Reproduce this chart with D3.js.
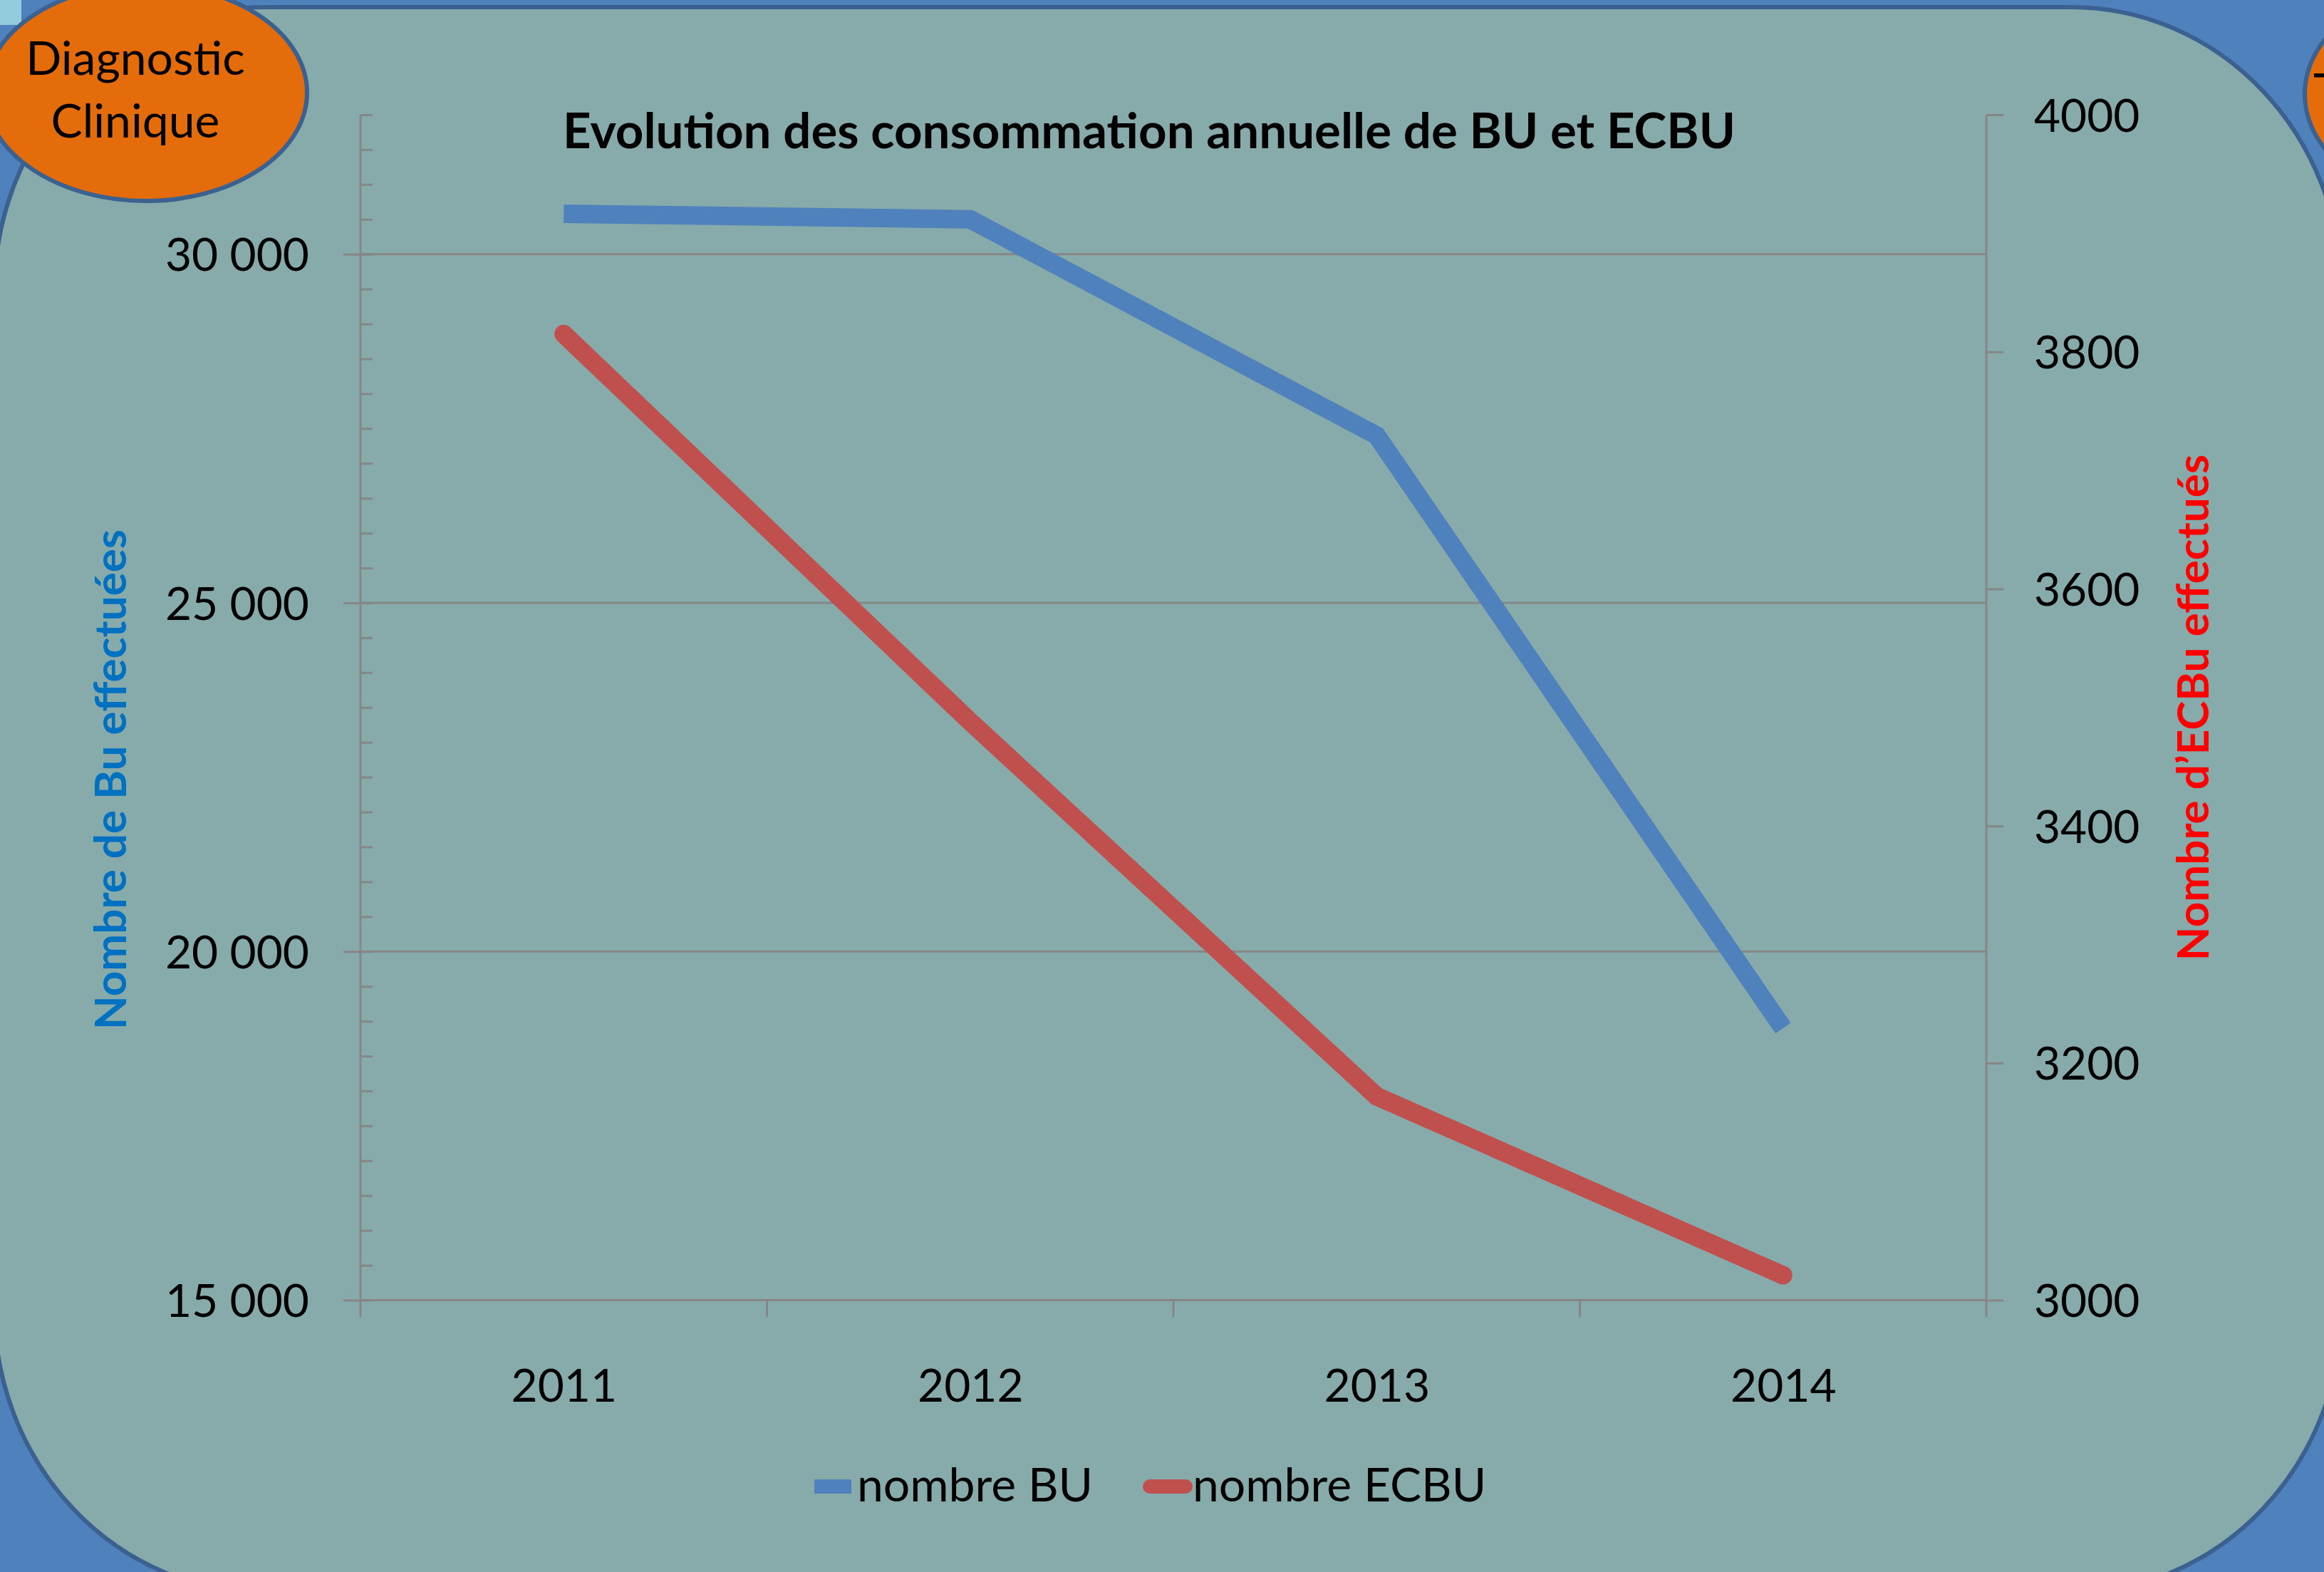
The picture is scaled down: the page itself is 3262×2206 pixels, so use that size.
<!DOCTYPE html>
<html>
<head>
<meta charset="utf-8">
<title>Evolution des consommation annuelle de BU et ECBU</title>
<style>
  body { margin: 0; background: #4f81bd; }
  svg { display: block; font-family: Lato, "Open Sans", sans-serif; }
</style>
</head>
<body>
<div id="container"></div>
<script src="https://cdn.jsdelivr.net/npm/d3@7"></script>
<script>
// Data
const years = ["2011", "2012", "2013", "2014"];
const nombreBU = [30580, 30500, 27400, 18900];
const nombreECBU = [3815, 3488, 3172, 3021];
const leftTicks = [15000, 20000, 25000, 30000];
const rightTicks = [3000, 3200, 3400, 3600, 3800, 4000];
const seriesNames = ["nombre BU", "nombre ECBU"];

const width = 3262;
const height = 2206;
const marginLeft = 506;
const marginRight = width - 2788;
const marginTop = 161;
const plotBottom = 1824.5;

const fmt = d3.formatLocale({thousands: " ", grouping: [3], decimal: ",", currency: ["", ""]}).format(",d");

// Scales
const x = d3.scalePoint().domain(years).range([marginLeft, width - marginRight]).padding(0.5);
const xb = d3.scaleBand().domain(years).range([marginLeft, width - marginRight]);
const yL = d3.scaleLinear().domain([15000, 32000]).range([plotBottom, marginTop]);
const yR = d3.scaleLinear().domain([3000, 4000]).range([plotBottom, marginTop]);

const svg = d3.create("svg")
    .attr("width", width)
    .attr("height", height);

// Slide background: blue page, teal rounded panel
svg.append("rect").attr("width", width).attr("height", height).attr("fill", "#4f81bd");
svg.append("rect").attr("width", 30).attr("height", 35).attr("fill", "#93cddd");
svg.append("rect")
    .attr("x", -8).attr("y", 10)
    .attr("width", 3295).attr("height", 2225)
    .attr("rx", 380).attr("ry", 400)
    .attr("fill", "#87abaa")
    .attr("stroke", "#3b6191")
    .attr("stroke-width", 6);

// Gridlines
const gridColor = "#868686";
svg.append("g")
  .selectAll("line")
  .data(leftTicks.slice(1))
  .join("line")
    .attr("x1", marginLeft).attr("x2", width - marginRight)
    .attr("y1", d => yL(d)).attr("y2", d => yL(d))
    .attr("stroke", gridColor).attr("stroke-width", 3);

// Left axis: minor ticks inside, major ticks outside
const minorL = d3.range(15000, 32001, 500);
svg.append("g")
    .attr("transform", `translate(${marginLeft},0)`)
    .call(d3.axisRight(yL).tickValues(minorL).tickSize(17).tickFormat(""))
    .call(g => g.select(".domain").remove())
    .call(g => g.selectAll("line").attr("stroke", gridColor).attr("stroke-width", 3));

svg.append("g")
    .attr("transform", `translate(${marginLeft},0)`)
    .call(d3.axisLeft(yL).tickValues(leftTicks).tickSize(24).tickSizeOuter(0).tickPadding(48).tickFormat(fmt))
    .call(g => g.select(".domain").attr("stroke", gridColor).attr("stroke-width", 3)
        .attr("d", `M0,${plotBottom + 24}V${marginTop}`))
    .call(g => g.selectAll("line").attr("stroke", gridColor).attr("stroke-width", 3))
    .call(g => g.selectAll("text").attr("font-size", 64).attr("font-family", "Lato").attr("fill", "#000").attr("dy", "0.36em"));

// Right axis
svg.append("g")
    .attr("transform", `translate(${width - marginRight},0)`)
    .call(d3.axisRight(yR).tickValues(rightTicks).tickSize(24).tickSizeOuter(0).tickPadding(43).tickFormat(d3.format("d")))
    .call(g => g.select(".domain").attr("stroke", gridColor).attr("stroke-width", 3)
        .attr("d", `M0,${plotBottom + 24}V${marginTop}`))
    .call(g => g.selectAll("line").attr("stroke", gridColor).attr("stroke-width", 3))
    .call(g => g.selectAll("text").attr("font-size", 64).attr("font-family", "Lato").attr("fill", "#000").attr("dy", "0.36em"));

// Bottom axis line and band boundary ticks
svg.append("line")
    .attr("x1", marginLeft).attr("x2", width - marginRight)
    .attr("y1", plotBottom).attr("y2", plotBottom)
    .attr("stroke", gridColor).attr("stroke-width", 3);
svg.append("g")
  .selectAll("line")
  .data(years.slice(1))
  .join("line")
    .attr("x1", d => xb(d)).attr("x2", d => xb(d))
    .attr("y1", plotBottom).attr("y2", plotBottom + 24)
    .attr("stroke", gridColor).attr("stroke-width", 3);

svg.append("g")
    .attr("transform", `translate(0,${plotBottom})`)
    .call(d3.axisBottom(x).tickSize(0).tickPadding(97))
    .call(g => g.select(".domain").remove())
    .call(g => g.selectAll("text").attr("font-size", 64).attr("font-family", "Lato").attr("fill", "#000"));

// Lines
const lineBU = d3.line().x((d, i) => x(years[i])).y(d => yL(d));
const lineECBU = d3.line().x((d, i) => x(years[i])).y(d => yR(d));

svg.append("path")
    .attr("fill", "none")
    .attr("stroke", "#4f81bd")
    .attr("stroke-width", 26)
    .attr("stroke-linecap", "butt")
    .attr("d", lineBU(nombreBU));

svg.append("path")
    .attr("fill", "none")
    .attr("stroke", "#c0504d")
    .attr("stroke-width", 26)
    .attr("stroke-linecap", "round")
    .attr("d", lineECBU(nombreECBU));

// Title
svg.append("text")
    .attr("x", 790).attr("y", 208)
    .attr("font-size", 69).attr("font-weight", "bold")
    .attr("fill", "#000")
    .text("Evolution des consommation annuelle de BU et ECBU");

// Axis titles
svg.append("text")
    .attr("transform", `translate(177,1094) rotate(-90)`)
    .attr("text-anchor", "middle")
    .attr("font-size", 62).attr("font-weight", "bold")
    .attr("fill", "#0070c0")
    .text("Nombre de Bu effectuées");

svg.append("text")
    .attr("transform", `translate(3100,993) rotate(-90)`)
    .attr("text-anchor", "middle")
    .attr("font-size", 62).attr("font-weight", "bold")
    .attr("fill", "#ff0000")
    .text("Nombre d’ECBu effectués");

// Legend
const legend = svg.append("g");
legend.append("line")
    .attr("x1", 1143).attr("x2", 1195).attr("y1", 2086).attr("y2", 2086)
    .attr("stroke", "#4f81bd").attr("stroke-width", 20);
legend.append("text")
    .attr("x", 1203).attr("y", 2107).attr("font-size", 66).attr("fill", "#000")
    .text(seriesNames[0]);
legend.append("line")
    .attr("x1", 1614).attr("x2", 1664).attr("y1", 2086).attr("y2", 2086)
    .attr("stroke", "#c0504d").attr("stroke-width", 20).attr("stroke-linecap", "round");
legend.append("text")
    .attr("x", 1674).attr("y", 2107).attr("font-size", 66).attr("fill", "#000")
    .text(seriesNames[1]);

// Orange bubbles of the slide
svg.append("ellipse")
    .attr("cx", 205).attr("cy", 130).attr("rx", 226).attr("ry", 152)
    .attr("fill", "#e46c0a").attr("stroke", "#3b6191").attr("stroke-width", 6);
svg.append("text")
    .attr("x", 190).attr("y", 105).attr("text-anchor", "middle")
    .attr("font-size", 66).attr("fill", "#000")
    .text("Diagnostic");
svg.append("text")
    .attr("x", 190).attr("y", 193).attr("text-anchor", "middle")
    .attr("font-size", 66).attr("fill", "#000")
    .text("Clinique");

svg.append("ellipse")
    .attr("cx", 3460).attr("cy", 132).attr("rx", 225).attr("ry", 158)
    .attr("fill", "#e46c0a").attr("stroke", "#3b6191").attr("stroke-width", 6);
svg.append("text")
    .attr("x", 3247).attr("y", 150)
    .attr("font-size", 66).attr("fill", "#000")
    .text("T");

container.append(svg.node());
</script>
</body>
</html>
